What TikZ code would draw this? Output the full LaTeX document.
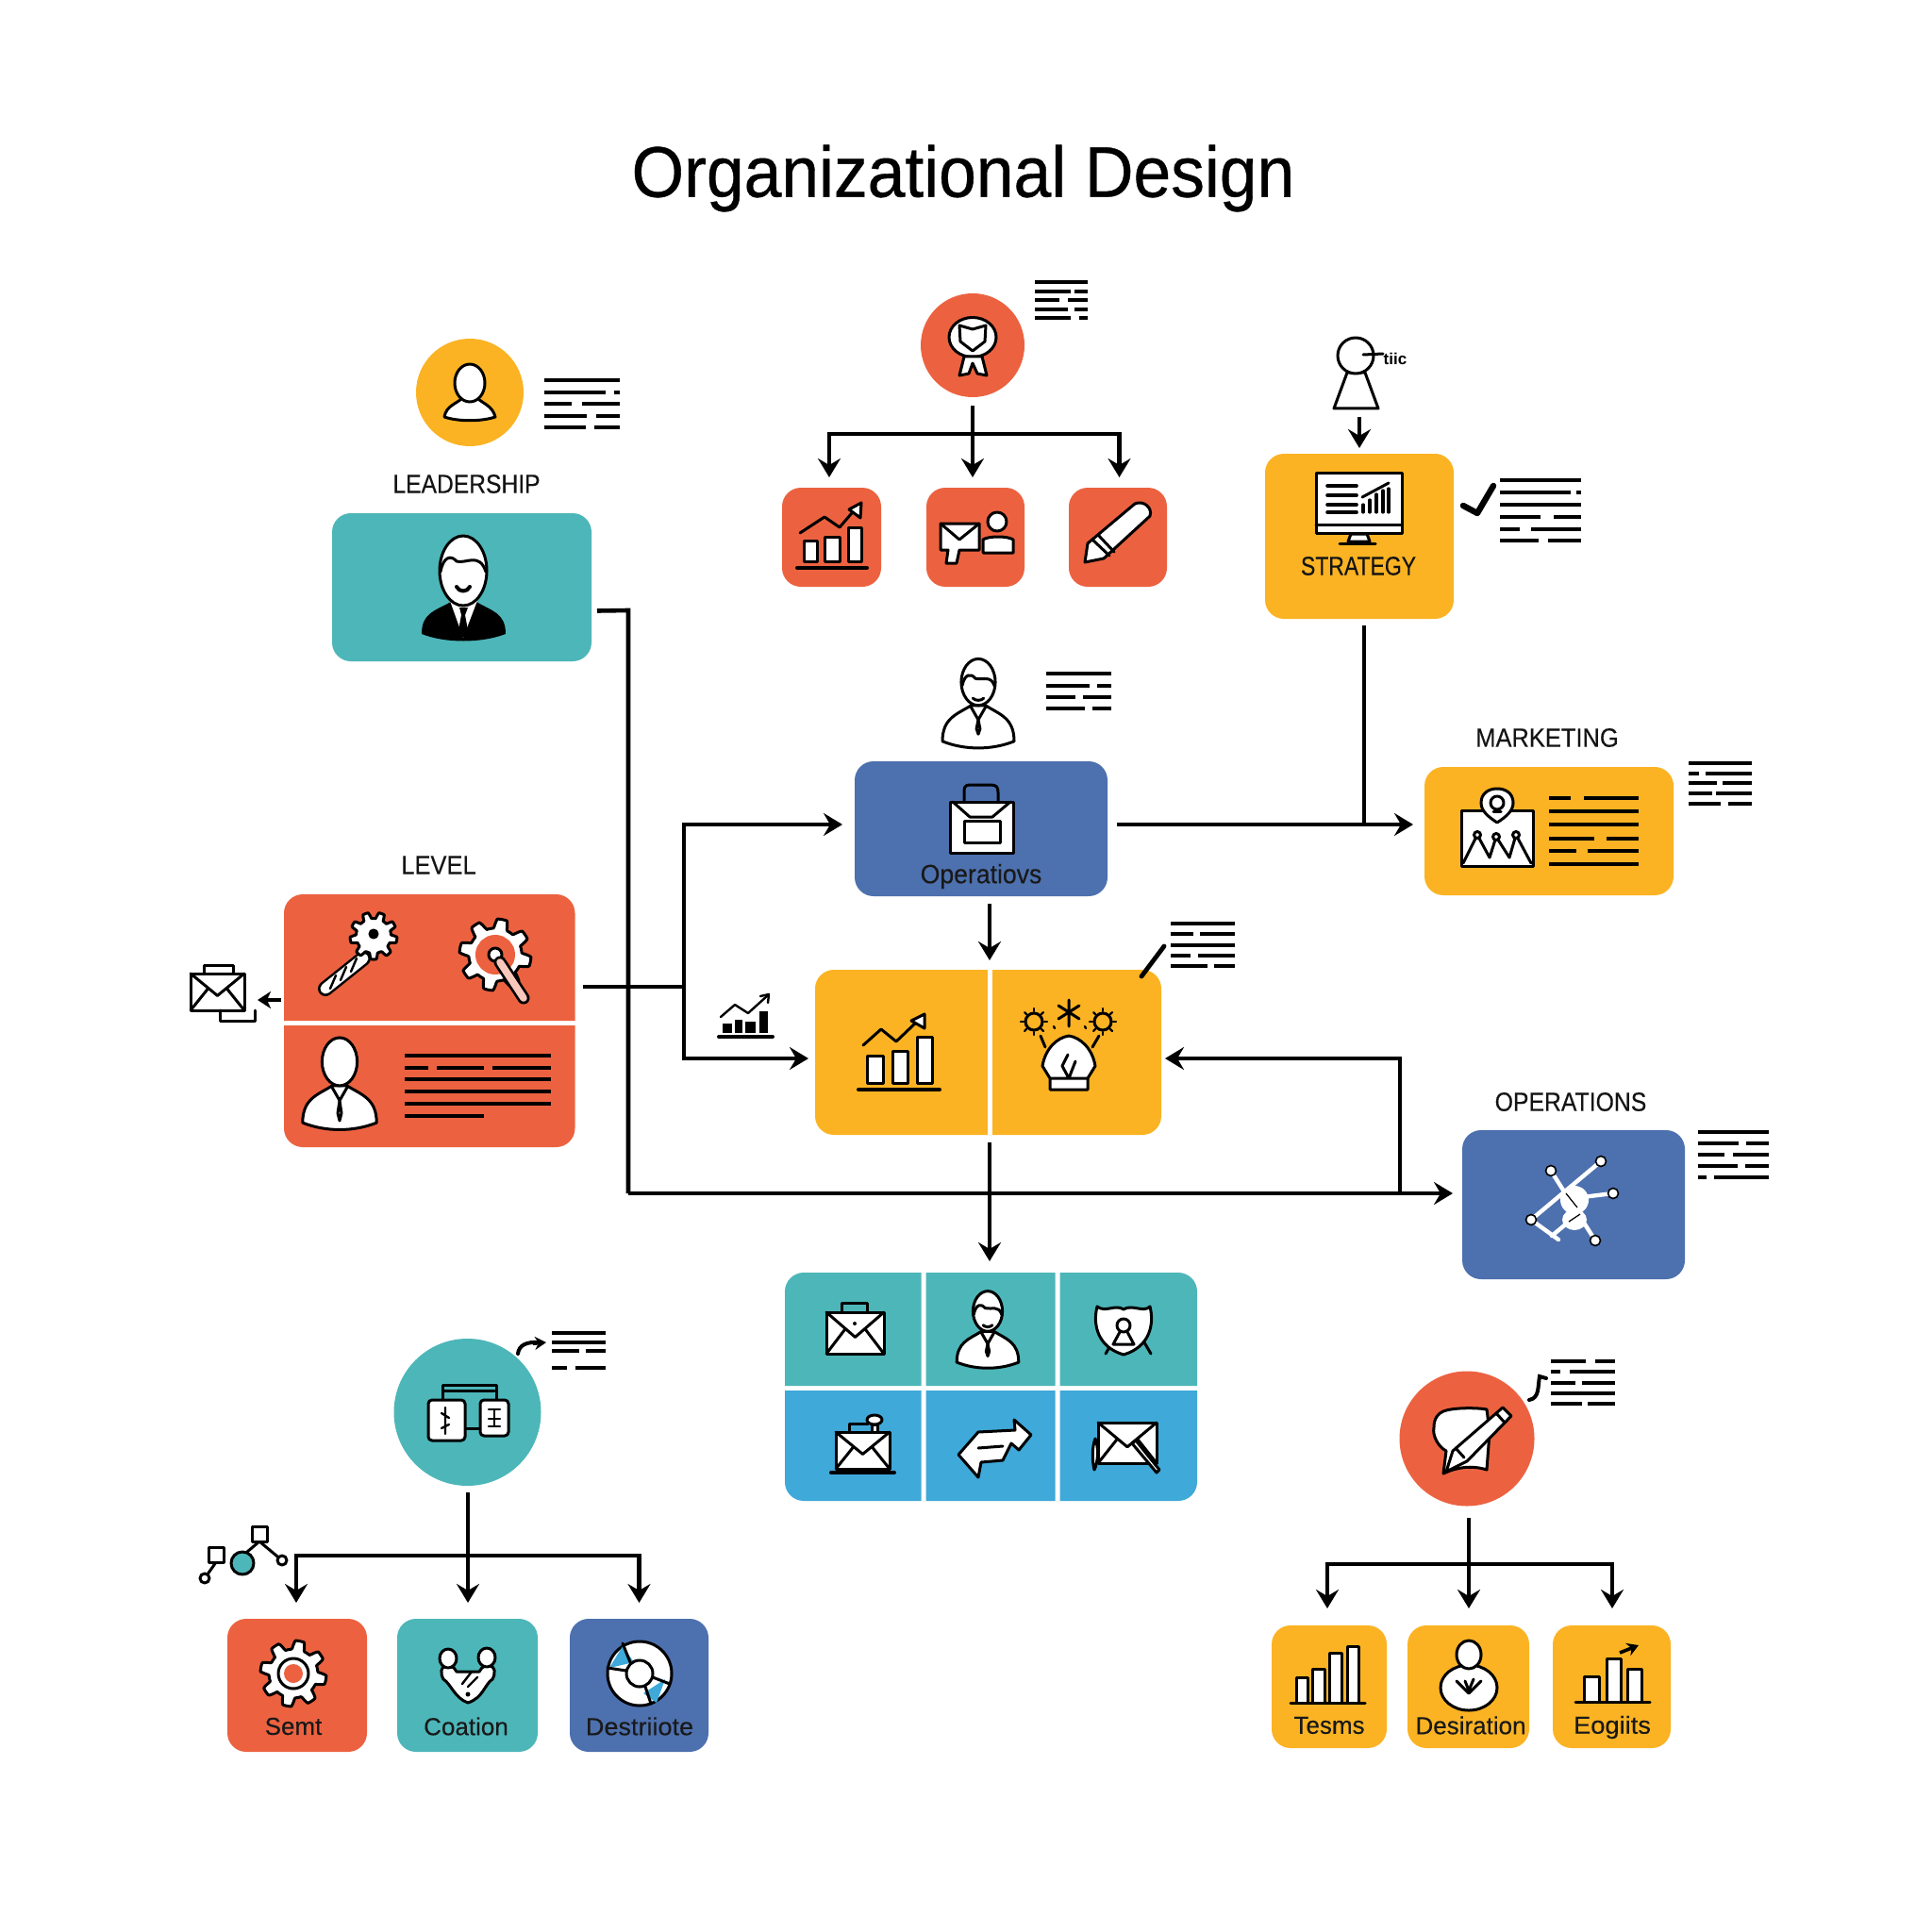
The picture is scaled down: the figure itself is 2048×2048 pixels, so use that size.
\documentclass[tikz,border=0pt]{standalone}
\usepackage{fontspec}
\usepackage{graphicx}
\setmainfont{Liberation Sans}
\newfontfamily\titlefont[FakeBold=0.5]{Liberation Sans}
\newfontfamily\labfont[FakeBold=0.2]{Liberation Sans}
\usetikzlibrary{arrows.meta,shapes.geometric}
\definecolor{cred}{HTML}{EC6240}
\definecolor{cyel}{HTML}{FBB323}
\definecolor{ctea}{HTML}{4DB6B9}
\definecolor{cblu}{HTML}{4D70AE}
\definecolor{csky}{HTML}{3FA9D9}
\tikzset{
  x=0.5pt,y=-0.5pt,
  boxst/.style={rectangle,rounded corners=10pt,inner sep=0pt,outer sep=0pt},
  circst/.style={circle,inner sep=0pt,outer sep=0pt},
  ghost/.style={rectangle,inner sep=0pt,outer sep=0pt},
  conn/.style={line width=2.3pt,black,line join=miter},
  connar/.style={conn,-{Stealth[length=10pt,width=12pt,inset=3.5pt]}},
  txl/.style={line width=1.7pt,black},
  ic/.style={draw=black,fill=white,line width=1.5pt,line join=round},
  icl/.style={draw=black,line width=1.5pt,line join=round,line cap=round},
  wl/.style={draw=white,line width=2.2pt,line cap=round},
  lab/.style={inner sep=0pt,outer sep=0pt,text=black!92,font=\labfont\fontsize{14pt}{16pt}\selectfont},
  sml/.style={inner sep=0pt,outer sep=0pt,text=black!90,font=\labfont\fontsize{13pt}{15pt}\selectfont},
}
\newcommand{\mybox}[6]{\node[boxst,fill=#6,minimum width={(#4-#2)*0.5pt},minimum height={(#5-#3)*0.5pt}] (#1) at ({(#2+#4)/2},{(#3+#5)/2}) {};}
\newcommand{\myghost}[5]{\node[ghost,minimum width={(#4-#2)*0.5pt},minimum height={(#5-#3)*0.5pt}] (#1) at ({(#2+#4)/2},{(#3+#5)/2}) {};}
\newcommand{\mytop}[5]{\fill[#5] (#1,#4) [rounded corners=10pt] -- (#1,#2) -- (#3,#2) [sharp corners] -- (#3,#4) -- cycle;}
\newcommand{\mybot}[5]{\fill[#5] (#1,#2) [rounded corners=10pt] -- (#1,#4) -- (#3,#4) [sharp corners] -- (#3,#2) -- cycle;}
\newcommand{\mycirc}[5]{\node[circst,fill=#5,minimum size=#4 pt] (#1) at (#2,#3) {};}
\newcommand{\mylines}[3]{\foreach \yy/\aa/\bb in {#3}{\draw[txl] (#1,\yy) -- (\aa,\yy) (\bb,\yy) -- (#2,\yy);}}
\newcommand{\mygear}[4]{\draw[ic] plot[domain=0:359,samples=181] ({#1+#3*(0.87+0.13*max(-1,min(1,2.2*sin(#4*\x))))*cos(\x)},{#2+#3*(0.87+0.13*max(-1,min(1,2.2*sin(#4*\x))))*sin(\x)}) -- cycle;}
\newcommand{\myenv}[4]{\draw[ic] (#1,#2) rectangle (#3,#4);
  \draw[icl] (#1,#2) -- ({(#1+#3)/2},{#2+0.6*(#4-#2)}) -- (#3,#2)
   (#1,#4) -- ({#1+0.33*(#3-#1)},{#2+0.4*(#4-#2)}) (#3,#4) -- ({#1+0.67*(#3-#1)},{#2+0.4*(#4-#2)});}
\newcommand{\mybust}[3]{\begin{scope}[shift={(#1,#2)},scale=#3]
  \draw[ic] (-40,44) .. controls (-40,18) and (-24,14) .. (-8,4) -- (8,4) .. controls (24,14) and (40,18) .. (40,44) .. controls (15,54) and (-15,54) .. (-40,44) -- cycle;
  \draw[ic] (0,-22) ellipse (19 and 26);
  \draw[icl] (-8,6) -- (0,20) -- (8,6);
  \end{scope}}
\newcommand{\myhair}[3]{\begin{scope}[shift={(#1,#2)},scale=#3]
  \draw[icl] (-18,-18) .. controls (-15,-32) and (-8,-32) .. (-3,-26) .. controls (5,-24) and (14,-30) .. (18,-18);
  \draw[icl] (-6,-4) .. controls (-3,-1) and (3,-1) .. (6,-4);
  \draw[icl] (0,20) -- (-2,30) -- (0,36) -- (2,30) -- cycle;
  \end{scope}}
\begin{document}
\begin{tikzpicture}
\useasboundingbox (0,0) rectangle (2048,2048);
\fill[white] (0,0) rectangle (2048,2048);

% title
\node[inner sep=0pt,font=\titlefont\fontsize{38pt}{44pt}\selectfont] (title) at (1021,189) {\scalebox{0.94}[1]{Organizational Design}};

% labels
\node[lab] (lleader) at (494.5,513) {\scalebox{0.88}[1]{LEADERSHIP}};
\node[lab] (llevel) at (465,917) {\scalebox{0.91}[1]{LEVEL}};
\node[lab] (lmark) at (1640,782) {\scalebox{0.91}[1]{MARKETING}};
\node[lab] (lops) at (1665,1168) {\scalebox{0.885}[1]{OPERATIONS}};

% leadership
\mycirc{leadc}{498}{416}{57}{cyel}
\draw[ic] (471,442) .. controls (473,430) and (484,428) .. (490,422) -- (506,422) .. controls (512,428) and (522,430) .. (525,442) .. controls (510,447) and (486,447) .. (471,442) -- cycle;
\draw[ic] (498,406) ellipse (16 and 20);
\mylines{577}{657}{403/657/657,416/642/651,428/606/617,441/622/632,453/621/630}
\mybox{lead}{352}{544}{627}{701}{ctea}
\fill[black] (447,672) .. controls (447,650) and (460,648) .. (478,638) -- (505,638) .. controls (522,648) and (536,650) .. (536,672) .. controls (510,682) and (472,682) .. (447,672) -- cycle;
\fill[white] (476,634) -- (491,676) -- (507,634) -- cycle;
\fill[black] (487,644) -- (496,644) -- (493,652) -- (496,668) -- (491,676) -- (486,668) -- (489,652) -- cycle;
\draw[ic] (491,605) ellipse (25 and 37);
\draw[icl] (467,606) .. controls (470,590) and (478,588) .. (484,595) .. controls (494,598) and (508,585) .. (515,606);
\draw[icl,line width=2pt] (484,622) .. controls (487,628) and (495,628) .. (498,622);

% top tree
\mycirc{topc}{1031}{366}{55}{cred}
\draw[ic] (1031,357.5) ellipse (25 and 21);
\draw[ic] (1017,345) -- (1031,349) -- (1045,345) -- (1044,362) -- (1031,372) -- (1018,362) -- cycle;
\draw[ic] (1022,378) -- (1017,398) -- (1027,396) -- (1031,385) -- (1036,396) -- (1046,398) -- (1041,378) -- cycle;
\mylines{1097}{1153}{299/1153/1153,309/1135/1139,318/1123/1132,328/1132/1139,337/1135/1144}
\mybox{ta}{829}{517}{934}{622}{cred}
\mybox{tb}{982}{517}{1086}{622}{cred}
\mybox{tc}{1133}{517}{1237}{622}{cred}
\foreach \a/\b/\t in {852/866/573,874/890/569,899/913/559}{\draw[ic] (\a,\t) rectangle (\b,595);}
\draw[icl,line width=2pt] (845,602) -- (919,602);
\draw[icl] (848,565) -- (874,548) -- (890,559) -- (908,538);
\draw[ic] (900,540) -- (913,533) -- (912,549) -- cycle;
\draw[ic] (1000,583) -- (1005,583) -- (1003,597) -- (1014,597) -- (1017,583) -- (1038,583) -- (1038,555) -- (997,555) -- (997,583) -- cycle;
\draw[icl] (997,555) -- (1017,572) -- (1038,555);
\draw[ic] (1042,586) -- (1042,572) .. controls (1048,568) and (1068,568) .. (1074,572) -- (1074,586) -- cycle;
\draw[ic] (1057,553) ellipse (10 and 10);
\draw[ic] (1150,596) -- (1153,576) -- (1203,534) .. controls (1212,530) and (1222,538) .. (1219,547) -- (1170,592) -- cycle;
\draw[icl] (1158,572) -- (1176,589) (1164,567) -- (1181,585);
\coordinate (tj) at (1031,460);
\draw[conn] ([yshift=-4.5pt]topc.south) -- (tj);
\draw[connar] (tj) -| ([xshift=-1.25pt,yshift=5.5pt]ta.north);
\draw[connar] (tj) -| ([xshift=0.75pt,yshift=5.5pt]tc.north);
\draw[connar] (tj) -- ([xshift=-1.5pt,yshift=5.5pt]tb.north);

% strategy
\draw[ic,fill=white] (1428,395) -- (1447,395) -- (1461,433) -- (1414,433) -- cycle;
\draw[ic] (1437,377) circle (19);
\coordinate (sperson) at (1441,442);
\draw[icl] (1445,376) -- (1466,375);
\node[inner sep=0pt,font=\bfseries\fontsize{8.5pt}{9pt}\selectfont] (stiny) at (1479,380) {tiic};
\mybox{strat}{1341}{481}{1541}{656}{cyel}
\draw[connar] (sperson) -- ([yshift=3pt]strat.north);
\draw[ic] (1395,501) rectangle (1486,565);
\draw[icl] (1395,556) -- (1486,556);
\draw[icl,line width=1.8pt] (1407,515) -- (1438,515) (1407,525) -- (1438,525) (1407,535) -- (1438,535) (1407,543) -- (1438,543);
\foreach \a/\t in {1445/535,1452/530,1459/524,1466/520,1472/518}{\draw[icl,line width=1.6pt] (\a,\t) -- (\a,543);}
\draw[icl] (1444,527) -- (1472,512);
\draw[ic] (1432,566) -- (1449,566) -- (1452,574) -- (1429,574) -- cycle;
\draw[icl] (1420,576) -- (1458,576);
\node[lab] (lstrat) at (1440,600) {\scalebox{0.82}[1]{STRATEGY}};
\draw[line width=3.2pt,line cap=round,line join=round] (1551,536) -- (1566,544) -- (1583,515);
\mylines{1590}{1676}{509/1676/1676,522/1665/1671,535/1676/1676,548/1633/1647,561/1611/1623,573/1631/1641}

% marketing
\mybox{mkt}{1510}{813}{1774}{949}{cyel}
\draw[ic] (1549,859) rectangle (1625,918);
\draw[icl] (1551,915) -- (1566,885) -- (1579,909) -- (1586,887) -- (1600,909) -- (1607,885) -- (1623,915);
\foreach \a/\b in {1566/885,1586/887,1607/885}{\draw[ic] (\a,\b) circle (3.5);}
\draw[ic] (1587,872) .. controls (1578,866) and (1570,860) .. (1570,851) .. controls (1570,841) and (1578,836) .. (1587,836) .. controls (1596,836) and (1604,841) .. (1604,851) .. controls (1604,860) and (1596,866) .. (1587,872) -- cycle;
\draw[icl] (1587,851) circle (7);
\draw[icl] (1583,860) -- (1591,860);
\mylines{1642}{1737}{846/1665/1679,860/1737/1737,874/1737/1737,889/1690/1703,902/1671/1683,916/1737/1737}
\mylines{1790}{1857}{809/1857/1857,820/1801/1808,830/1820/1826,841/1815/1819,852/1824/1832}

% operations middle
\mybust{1037}{744}{0.95}
\myhair{1037}{744}{0.95}
\mylines{1109}{1178}{714/1178/1178,727/1155/1163,739/1140/1148,751/1150/1158}
\mybox{opsb}{906}{807}{1174}{950}{cblu}
\draw[ic] (1007,850) rectangle (1074,904);
\draw[icl] (1022,850) -- (1022,838) .. controls (1022,832) and (1026,832) .. (1030,832) -- (1050,832) .. controls (1056,832) and (1058,834) .. (1058,840) -- (1058,850);
\draw[icl] (1010,850) -- (1028,866) -- (1052,866) -- (1071,850);
\draw[ic] (1022,870) rectangle (1060,893);
\node[sml,font=\labfont\fontsize{14pt}{16pt}\selectfont] (lop2) at (1040,929) {\scalebox{0.95}[1]{Operatiovs}};

% level
\mytop{301}{948}{609.5}{1082}{cred}
\mybot{301}{1087}{609.5}{1216}{cred}
\myghost{lvla}{301}{948}{609.5}{1082}
\myghost{lvlb}{301}{1087}{609.5}{1216}
\draw[line width=8pt,black,line cap=round] (385,1016) -- (345,1048);
\draw[line width=5.5pt,white,line cap=round] (385,1016) -- (345,1048);
\foreach \t in {0,1,2}{\draw[icl,line width=1.2pt] ({350+\t*11},{1048-\t*9}) -- ({356+\t*11},{1034-\t*9});}
\mygear{396}{992}{25}{9}
\draw[icl,fill=black] (396,990) circle (4);
\mygear{525}{1012}{38}{8}
\draw[line width=7pt,cred] (525,1012) circle (14);
\draw[ic] (525,1012) circle (7);
\draw[line width=6.5pt,black,line cap=round] (530,1020) -- (555,1058);
\draw[line width=3.8pt,cred!35!white,line cap=round] (530,1020) -- (555,1058);
\mybust{360}{1147}{0.98}
\draw[icl] (360,1167) -- (358,1180) -- (360,1188) -- (362,1180) -- cycle;
\mylines{429}{583.5}{1119/583.5/583.5,1144/583.5/583.5,1157/583.5/583.5,1170/583.5/583.5}
\draw[txl] (429,1132) -- (454,1132) (463,1132) -- (513,1132) (522,1132) -- (583.5,1132);
\draw[txl] (429,1183) -- (513,1183);
\draw[conn,-{Stealth[length=7pt,width=9pt,inset=2pt]}] ([xshift=-1.5pt,yshift=-22.5pt]lvla.west) -- (273,1060);
\myenv{202}{1032}{259}{1071}
\draw[icl] (216,1032) -- (216,1023) -- (247,1023) -- (247,1032);
\draw[icl] (233,1071) -- (233,1082) -- (270,1082) -- (270,1071);

% yellow
\mybox{yel}{864}{1028}{1231}{1203}{cyel}
\fill[white] (1046.5,1028) rectangle (1051.5,1203);
\draw[line width=2.4pt,line cap=round] (1210,1035) -- (1234,1003);
\mylines{1241}{1309}{979/1309/1309,990/1265/1272,1002/1309/1309,1013/1262/1270,1024/1280/1287}
\foreach \a/\b/\t in {919/936/1119,946/962/1114,972/988/1099}{\draw[ic] (\a,\t) rectangle (\b,1148);}
\draw[icl,line width=2pt] (910,1155) -- (996,1155);
\draw[icl] (915,1108) -- (934,1091) -- (950,1104) -- (972,1083);
\draw[ic] (966,1082) -- (980,1075) -- (980,1090) -- cycle;
% bulb
\draw[ic] (1113,1155) -- (1113,1143) -- (1105,1130) .. controls (1108,1112) and (1120,1100) .. (1133,1098) .. controls (1146,1100) and (1158,1112) .. (1161,1130) -- (1153,1143) -- (1153,1155) -- cycle;
\draw[icl] (1113,1143) -- (1153,1143) (1133,1143) -- (1126,1130) -- (1132,1118) (1133,1143) -- (1140,1125);
\draw[icl] (1108,1110) -- (1103,1098) (1158,1110) -- (1165,1098);
\foreach \c in {1096,1169}{\draw[icl] (\c,1083) circle (9);
  \foreach \an in {0,45,...,315}{\draw[icl,line width=1.2pt] ({\c+11*cos(\an)},{1083+11*sin(\an)}) -- ({\c+14*cos(\an)},{1083+14*sin(\an)});}}
\draw[icl] (1133,1060) -- (1133,1088) (1122,1066) -- (1144,1080) (1144,1066) -- (1122,1080);
\draw[icl,line width=1.2pt] (1117,1088) -- (1118,1090) (1150,1088) -- (1151,1090);
% small chart
\foreach \a/\b/\t in {766/776/1085,779/787/1081,790/801/1083,805/814/1072}{\fill[black] (\a,\t) rectangle (\b,1095);}
\draw[icl,line width=2pt] (762,1099) -- (819,1099);
\draw[icl,line width=1.2pt] (764,1078) -- (779,1065) -- (793,1074) -- (814,1055);
\draw[icl,line width=1.2pt] (806,1056) -- (815,1054) -- (814,1063);

% operations right
\mybox{opsr}{1550}{1198}{1786}{1356}{cblu}
\draw[wl] (1697,1231) -- (1623,1293) -- (1652,1314) (1644,1241) -- (1691,1315) (1669,1270) -- (1710,1265) (1645,1310) -- (1669,1290);
\foreach \a/\b in {1697/1231,1644/1241,1710/1265,1623/1293,1691/1315}{\draw[black,fill=white,line width=0.8pt] (\a,\b) circle (5.5);}
\fill[white] (1669,1272) ellipse (15 and 15) (1669,1293) ellipse (13 and 11);
\draw[black,line width=0.6pt] (1660,1265) -- (1672,1280) (1663,1295) -- (1675,1287);
\mylines{1800}{1875}{1200/1875/1875,1212/1843/1851,1224/1828/1837,1236/1842/1850,1248/1809/1817}

% grid
\mytop{832}{1349}{1269}{1469}{ctea}
\mybot{832}{1474}{1269}{1591}{csky}
\fill[white] (976.5,1349) rectangle (981.5,1591) (1118.5,1349) rectangle (1123.5,1591);
\myghost{grid}{832}{1349}{1269}{1591}
\myenv{876}{1391}{937}{1435}
\draw[icl] (892,1391) -- (892,1381) -- (919,1381) -- (919,1391);
\fill[black] (906,1403) circle (2);
\mybust{1047}{1408}{0.82}
\myhair{1047}{1408}{0.82}
\draw[icl] (1172,1435) -- (1182,1418) (1210,1418) -- (1220,1435);
\draw[ic] (1163,1385) .. controls (1172,1392) and (1182,1382) .. (1191,1388) .. controls (1200,1382) and (1212,1392) .. (1219,1385) .. controls (1224,1405) and (1218,1428) .. (1191,1436) .. controls (1164,1428) and (1158,1405) .. (1163,1385) -- cycle;
\draw[icl] (1191,1405) circle (7);
\draw[icl] (1187,1412) -- (1180,1425) -- (1202,1425) -- (1195,1412);
\myenv{886}{1518}{943}{1557}
\draw[icl,line width=2pt] (881,1561) -- (948,1561);
\draw[icl] (900,1518) -- (900,1509) -- (920,1509);
\draw[ic] (924,1518) -- (924,1510) -- (930,1510) -- (930,1518) -- cycle;
\draw[ic] (927,1505) ellipse (8 and 5);
\draw[ic] (1093,1521) -- (1075,1505) -- (1076,1516) -- (1037,1518) -- (1016,1542) -- (1037,1566) -- (1040,1550) -- (1063,1548) -- (1072,1530) -- (1080,1537) -- cycle;
\draw[icl] (1037,1535) -- (1063,1533);
\myenv{1164}{1508}{1226}{1551}
\draw[ic] (1200,1530) -- (1226,1561) -- (1229,1558) -- (1204,1527) -- cycle;
\draw[ic] (1161,1525) .. controls (1157,1535) and (1158,1550) .. (1160,1558) .. controls (1164,1550) and (1165,1535) .. (1161,1525) -- cycle;

% teal circle tree
\mycirc{tealc}{495.5}{1497}{78}{ctea}
\draw[icl] (469,1484) -- (469,1468) -- (526,1468) -- (526,1484) (471,1474) -- (524,1474);
\draw[icl] (493,1514) -- (509,1514);
\draw[ic,rounded corners=2pt] (454,1484) rectangle (493,1527);
\draw[ic,rounded corners=2pt] (509,1484) rectangle (539,1522);
\draw[icl,line width=1.2pt] (472,1492) -- (472,1520) (468,1498) -- (476,1503) (476,1510) -- (468,1514);
\draw[icl,line width=1.2pt] (518,1494) -- (530,1494) (518,1504) -- (530,1504) (524,1494) -- (524,1512) (518,1512) -- (530,1512);
\draw[line width=2pt,line cap=round] (549,1435) .. controls (550,1426) and (558,1422) .. (572,1423);
\draw[-{Stealth[length=6pt,width=7pt]},line width=2pt] (565,1424) -- (579,1423);
\mylines{585}{642}{1413/642/642,1423/642/642,1432/614/621,1450/601/610}
\mybox{sa}{241}{1716}{389}{1857}{cred}
\mybox{sb}{421}{1716}{570}{1857}{ctea}
\mybox{sc}{604}{1716}{751}{1857}{cblu}
\coordinate (lj) at (496,1649);
\draw[conn] ([xshift=0.25pt,yshift=-3.5pt]tealc.south) -- (lj);
\draw[connar] (lj) -| ([xshift=-0.5pt,yshift=8.5pt]sa.north);
\draw[connar] (lj) -| ([yshift=8.5pt]sc.north);
\draw[connar] (lj) -- ([xshift=0.25pt,yshift=8.5pt]sb.north);
% network
\draw[icl] (229,1656) -- (217,1673) (262,1645) -- (275,1634) (275,1634) -- (299,1654);
\draw[ic] (221,1640) rectangle (237,1656);
\draw[ic] (267,1618) rectangle (283,1634);
\draw[ic,fill=ctea] (257,1657) circle (12);
\draw[ic] (217,1673) circle (5);
\draw[ic] (299,1654) circle (5);
% small box icons
\mygear{311}{1774}{35}{8}
\draw[icl] (311,1774) circle (16);
\fill[cred] (311,1774) circle (10);
\node[sml] (lsemt) at (311,1830) {Semt};
\draw[ic] (470,1780) .. controls (462,1765) and (478,1760) .. (484,1772) -- (508,1772) .. controls (514,1760) and (530,1765) .. (522,1780) .. controls (514,1785) and (512,1800) .. (496,1805) .. controls (482,1800) and (478,1785) .. (470,1780) -- cycle;
\draw[ic] (475,1758) ellipse (9 and 10);
\draw[ic] (516,1757) ellipse (9 and 10);
\draw[icl,line width=1.2pt] (490,1785) -- (500,1772) (496,1788) -- (506,1778);
\fill[black] (496,1796) circle (2.5);
\node[sml] (lcoat) at (494,1830) {Coation};
\draw[ic] (678,1774) circle (34);
\fill[csky] (646,1768) -- (660,1745) -- (672,1762) -- cycle (682,1795) -- (705,1780) -- (696,1805) -- cycle;
\draw[ic] (678,1774) circle (14);
\draw[icl] (644,1768) -- (664,1771) (668,1762) -- (660,1742) (692,1778) -- (710,1785) (684,1788) -- (690,1806);
\node[sml] (ldest) at (678,1830) {\scalebox{1.04}[1]{Destriiote}};

% red circle 2
\mycirc{redc}{1555}{1525}{71.5}{cred}
\draw[ic] (1530,1496) .. controls (1540,1492) and (1565,1492) .. (1576,1494) -- (1579,1518) -- (1576,1558) .. controls (1560,1553) and (1545,1555) .. (1530,1562) -- (1533,1538) .. controls (1525,1534) and (1518,1522) .. (1520,1513) .. controls (1520,1503) and (1525,1498) .. (1530,1496) -- cycle;
\draw[ic] (1593,1492) -- (1602,1501) -- (1555,1549) -- (1533,1560) -- (1540,1538) -- cycle;
\draw[icl] (1586,1498) -- (1595,1508) (1543,1535) -- (1552,1545);
\draw[line width=2pt,line cap=round] (1621,1484) .. controls (1632,1482) and (1630,1470) .. (1632,1459) -- (1639,1461);
\mylines{1644}{1712}{1443/1681/1691,1454/1654/1664,1466/1670/1677,1477/1712/1712,1488/1677/1683}
\mybox{ra}{1348}{1723}{1470}{1853}{cyel}
\mybox{rb}{1492}{1723}{1621}{1853}{cyel}
\mybox{rc}{1646}{1723}{1771}{1853}{cyel}
\coordinate (rj) at (1557,1658);
\draw[conn] ([xshift=1pt,yshift=-6pt]redc.south) -- (rj);
\draw[connar] (rj) -| ([xshift=-1pt,yshift=9pt]ra.north);
\draw[connar] (rj) -| ([xshift=0.25pt,yshift=9pt]rc.north);
\draw[connar] (rj) -- ([xshift=0.25pt,yshift=9pt]rb.north);
\foreach \a/\b/\t in {1374/1386/1778,1391/1404/1769,1409/1422/1752,1428/1440/1745}{\draw[ic] (\a,\t) rectangle (\b,1805);}
\draw[icl] (1368,1805) -- (1447,1805);
\node[sml] (ltes) at (1409,1829) {Tesms};
\draw[ic] (1557,1789) ellipse (30 and 24);
\draw[ic] (1557,1754) ellipse (13 and 15);
\draw[icl] (1544,1782) -- (1557,1795) -- (1570,1782) (1553,1782) -- (1557,1792) -- (1562,1780);
\node[sml] (ldes) at (1559,1829) {Desiration};
\foreach \a/\b/\t in {1679/1695/1777,1703/1718/1758,1725/1740/1769}{\draw[ic] (\a,\t) rectangle (\b,1804);}
\draw[icl] (1670,1804) -- (1749,1804);
\draw[line width=1.8pt,-{Stealth[length=6pt,width=7pt]}] (1717,1752) -- (1737,1744);
\node[sml] (lego) at (1709,1831) {\scalebox{1.05}[1]{Eogiits}};

% connectors
\coordinate (sj) at (1446,874);
\coordinate (oj) at (1484,1265);
\coordinate (lvj) at (725,1046);
\coordinate (ldj) at (666,1265);
\draw[conn] ([xshift=3pt,yshift=-12.5pt]lead.east) -- (666,647) -- (ldj);
\draw[connar] (ldj) -- ([xshift=-5pt,yshift=6pt]opsr.west);
\draw[conn] ([xshift=4pt,yshift=-15.5pt]lvla.east) -- (lvj);
\draw[connar] (lvj) |- ([xshift=-6.5pt,yshift=2.25pt]opsb.west);
\draw[connar] (lvj) |- ([xshift=-3.5pt,yshift=-3.25pt]yel.west);
\draw[connar] ([xshift=4.5pt,yshift=-4pt]opsb.south) -- ([xshift=0.75pt,yshift=5pt]yel.north);
\draw[connar] ([xshift=0.75pt,yshift=-4pt]yel.south) -- ([xshift=-0.75pt,yshift=6pt]grid.north);
\draw[connar] ([xshift=5pt,yshift=2.25pt]opsb.east) -- ([xshift=-6pt,yshift=3.5pt]mkt.west);
\draw[conn] ([xshift=2.5pt,yshift=-3.5pt]strat.south) -- (sj);
\draw[connar] (oj) |- ([xshift=2pt,yshift=-3.25pt]yel.east);
\end{tikzpicture}
\end{document}
